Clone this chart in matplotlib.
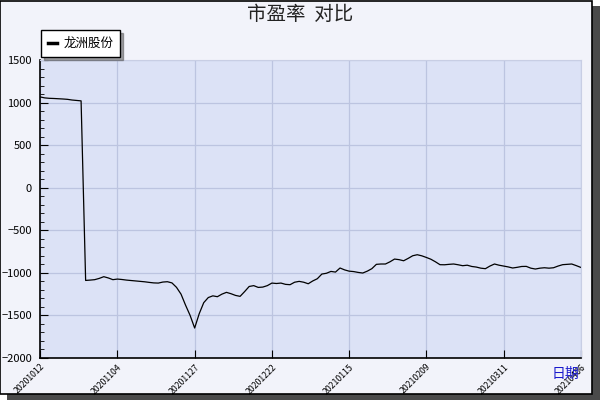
import matplotlib
matplotlib.use("Agg")
import matplotlib.pyplot as plt
from matplotlib.patches import Rectangle

plt.rcParams['font.family'] = ['Noto Sans CJK SC', 'DejaVu Sans']

# ---- data ----
title = "市盈率  对比"
series_name = "龙洲股份"
pe = [1066, 1055, 1050, 1048, 1045, 1042, 1038, 1030, 1025, 1020,
      -1089, -1085, -1080, -1065, -1045, -1060, -1080, -1073, -1078, -1085,
      -1090, -1095, -1100, -1105, -1112, -1118, -1120, -1108, -1104, -1118,
      -1170, -1250, -1380, -1500, -1648, -1480, -1350, -1290, -1270, -1280,
      -1250, -1229, -1245, -1265, -1276, -1220, -1160, -1150, -1171, -1167,
      -1150, -1120, -1125, -1120, -1135, -1139, -1110, -1100, -1110, -1128,
      -1095, -1069, -1014, -1005, -983, -991, -943, -965, -980, -985,
      -995, -1002, -980, -951, -900, -896, -896, -870, -838, -845,
      -858, -830, -799, -787, -800, -819, -840, -870, -904, -905,
      -900, -896, -905, -916, -910, -925, -932, -945, -951, -920,
      -896, -910, -920, -930, -943, -935, -925, -924, -945, -955,
      -945, -940, -945, -940, -920, -904, -900, -896, -915, -936]
tick_labels = ["20201012", "20201104", "20201127", "20201222",
               "20210115", "20210209", "20210311", "20210406"]
tick_step = 17

fig = plt.figure(figsize=(6, 4), dpi=100, facecolor="white")

# panel with drop shadow
fig.patches.append(Rectangle((0.012, 0.0), 0.988, 0.985, transform=fig.transFigure,
                             facecolor="#4a4a4a", edgecolor="none", zorder=-2))
fig.patches.append(Rectangle((0.0, 0.016), 0.987, 0.982, transform=fig.transFigure,
                             facecolor="#F2F3FA", edgecolor="black", linewidth=1.2, zorder=-1))

ax = fig.add_axes([0.067, 0.105, 0.901, 0.745])
ax.set_facecolor("#DCE2F6")

x = list(range(len(pe)))
line, = ax.plot(x, pe, color="black", linewidth=0.9, label=series_name)

ax.set_xlim(0, len(pe) - 1)
ax.set_ylim(-2000, 1500)
ax.set_yticks(range(-2000, 1501, 500))
ax.set_yticks(range(-2000, 1501, 100), minor=True)
ax.set_xticks([i * tick_step for i in range(len(tick_labels))])
ax.set_xticklabels(tick_labels, rotation=45, ha="right", rotation_mode="anchor", fontsize=6.3)
ax.tick_params(axis="y", which="major", direction="in", length=6, labelsize=8, pad=6)
ax.tick_params(axis="y", which="minor", direction="in", length=3)
ax.tick_params(axis="x", which="major", direction="in", length=6, pad=3)
ax.grid(True, which="major", color="#BCC4E0", linewidth=0.9)

for s in ["top", "right"]:
    ax.spines[s].set_color("#C8CEE4")
for s in ["left", "bottom"]:
    ax.spines[s].set_color("black")
    ax.spines[s].set_linewidth(1.2)

fig.text(0.5, 0.963, title, ha="center", va="center", fontsize=14, color="#222222")
fig.text(0.943, 0.065, "日期", ha="center", va="center", fontsize=10, color="#1a1acc")

leg = ax.legend(handles=[line], loc="upper left", bbox_to_anchor=(0.068, 0.924),
                bbox_transform=fig.transFigure, fancybox=False, shadow=True,
                edgecolor="black", framealpha=1, facecolor="white", fontsize=9,
                handlelength=0.75, borderpad=0.55, handletextpad=0.5, borderaxespad=0)
leg.get_lines()[0].set_linewidth(2.5)

fig.savefig("out.png", dpi=100, facecolor=fig.get_facecolor())
